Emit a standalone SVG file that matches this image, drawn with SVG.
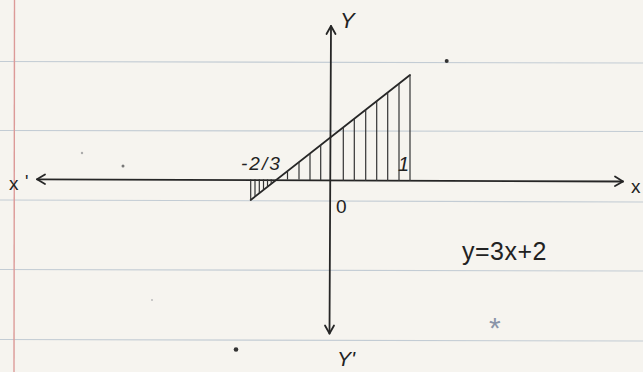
<svg xmlns="http://www.w3.org/2000/svg" width="643" height="372" viewBox="0 0 643 372">
<style>
.rule{stroke:#c3ccd4;stroke-width:1.1}
.ink{stroke:#262626;stroke-width:1.8;fill:none;stroke-linecap:round;stroke-linejoin:round}
.hatch{stroke:#333;stroke-width:1.2}
.t{font-family:"Liberation Sans",Arial,sans-serif;fill:#222}
.dot{fill:#333}
</style>
<rect width="643" height="372" fill="#f6f4ef"/>
<g id="paper">
<line class="rule" x1="0" y1="61.5" x2="643" y2="63"/>
<line class="rule" x1="0" y1="130.5" x2="643" y2="131.5"/>
<line class="rule" x1="0" y1="200" x2="643" y2="202"/>
<line class="rule" x1="0" y1="269.5" x2="643" y2="271"/>
<line class="rule" x1="0" y1="339.5" x2="643" y2="341"/>
<line x1="14.5" y1="0" x2="14" y2="372" stroke="#dc9a98" stroke-width="1.4"/>
<circle class="dot" cx="446.7" cy="61" r="2"/>
<circle class="dot" cx="236" cy="349.5" r="2.3"/>
<circle cx="123" cy="166" r="1.5" fill="#777"/>
<circle cx="82" cy="153" r="1.2" fill="#aaa"/>
<circle cx="152" cy="300" r="1" fill="#bbb"/>
</g>
<g id="axes">
<line class="ink" x1="37" y1="179.3" x2="623" y2="181.5"/>
<polyline class="ink" points="45,174.5 37,179.3 45,184"/>
<polyline class="ink" points="615,176.5 623,181.5 615,186"/>
<line class="ink" x1="331" y1="26" x2="329.5" y2="333.5"/>
<polyline class="ink" points="326.5,34 331,26 335.5,34"/>
<polyline class="ink" points="325,325.5 329.5,333.5 334,325.5"/>
</g>
<g id="graph">
<line class="ink" x1="250.7" y1="200" x2="410" y2="75"/>
<g class="hatch">
<line x1="250.7" y1="179.3" x2="250.7" y2="200"/>
<line x1="255" y1="179.3" x2="255" y2="196.6"/>
<line x1="259.3" y1="179.3" x2="259.3" y2="193.3"/>
<line x1="263.5" y1="179.3" x2="263.5" y2="190"/>
<line x1="267.5" y1="179.3" x2="267.5" y2="186.8"/>
<line x1="271.2" y1="179.3" x2="271.2" y2="183.9"/>
<line x1="287.5" y1="179.5" x2="287.5" y2="171"/>
<line x1="299" y1="179.6" x2="299" y2="162.1"/>
<line x1="310" y1="180" x2="310" y2="153.5"/>
<line x1="320.7" y1="180.3" x2="320.7" y2="145.1"/>
<line x1="343.3" y1="180.8" x2="343.3" y2="127.3"/>
<line x1="354.3" y1="181" x2="354.3" y2="118.7"/>
<line x1="365.7" y1="181" x2="365.7" y2="109.8"/>
<line x1="376.7" y1="181" x2="376.7" y2="101.1"/>
<line x1="387.7" y1="181" x2="387.7" y2="92.5"/>
<line x1="399" y1="181" x2="399" y2="83.6"/>
<line x1="410" y1="181" x2="410" y2="75"/>
</g>
</g>
<g id="labels">
<text class="t" x="9" y="190" font-size="19">x</text>
<text class="t" x="25" y="188" font-size="18">'</text>
<text class="t" x="631" y="193" font-size="19">x</text>
<text class="t" x="340" y="28" font-size="22" font-style="italic">Y</text>
<text class="t" x="337" y="366" font-size="21" font-style="italic">Y'</text>
<text class="t" x="336" y="213" font-size="19">0</text>
<text class="t" x="241" y="170" font-size="19" font-style="italic" letter-spacing="2">-2/3</text>
<text class="t" x="398" y="171" font-size="20" font-style="italic">1</text>
<text class="t" x="462" y="260" font-size="25" letter-spacing="0.5">y=3x+2</text>
<text x="489" y="338" font-size="30" font-family="'Liberation Sans',sans-serif" fill="#8a94a8">*</text>
</g>
</svg>
